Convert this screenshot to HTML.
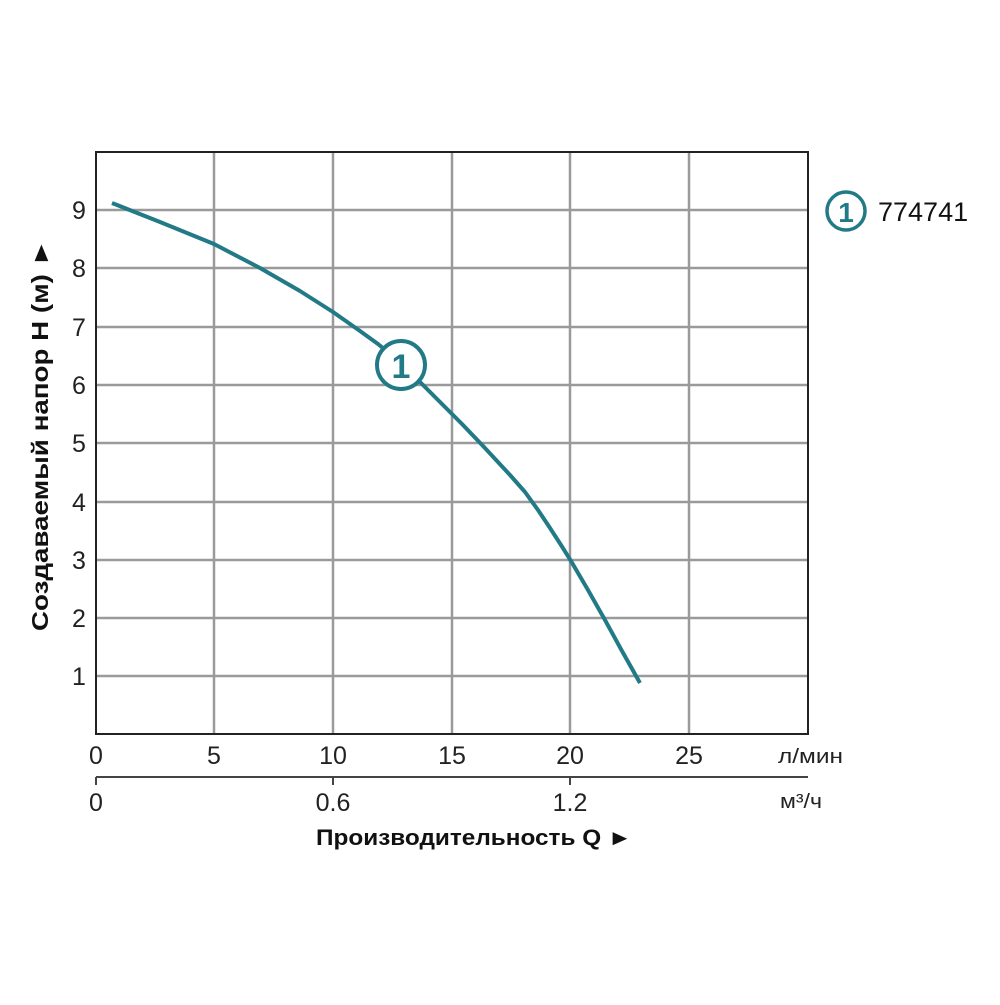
<!DOCTYPE html>
<html><head><meta charset="utf-8"><style>html,body{margin:0;padding:0;background:#fff}</style></head>
<body>
<svg width="1000" height="1000" viewBox="0 0 1000 1000" xmlns="http://www.w3.org/2000/svg" font-family="Liberation Sans, DejaVu Sans, sans-serif">
<g stroke="#9a9a9a" stroke-width="2.5">
<line x1="214" y1="152" x2="214" y2="734"/>
<line x1="333" y1="152" x2="333" y2="734"/>
<line x1="452" y1="152" x2="452" y2="734"/>
<line x1="570" y1="152" x2="570" y2="734"/>
<line x1="689" y1="152" x2="689" y2="734"/>
<line x1="96" y1="210" x2="808" y2="210"/>
<line x1="96" y1="268" x2="808" y2="268"/>
<line x1="96" y1="327" x2="808" y2="327"/>
<line x1="96" y1="385" x2="808" y2="385"/>
<line x1="96" y1="443" x2="808" y2="443"/>
<line x1="96" y1="502" x2="808" y2="502"/>
<line x1="96" y1="560" x2="808" y2="560"/>
<line x1="96" y1="618" x2="808" y2="618"/>
<line x1="96" y1="676" x2="808" y2="676"/>
</g>
<rect x="96" y="152" width="712" height="582" fill="none" stroke="#222" stroke-width="2"/>
<g stroke="#444" stroke-width="2">
<line x1="96" y1="777" x2="808" y2="777"/>
<line x1="96" y1="777" x2="96" y2="785"/>
<line x1="333" y1="777" x2="333" y2="785"/>
<line x1="570" y1="777" x2="570" y2="785"/>
</g>
<polyline points="112,203 160,222 214,244 260,268 300,291 333,312 360,331 378,344 401,363 420,382 440,402 462,424 484,447 510,475 525,492 538,510 550,528 561,545 571,561 588,590 605,620 622,651 640,683" fill="none" stroke="#217a85" stroke-width="4" stroke-linejoin="round"/>
<circle cx="401" cy="365" r="24" fill="#fff" stroke="#217a85" stroke-width="4"/>
<text x="401" y="378" text-anchor="middle" font-size="34" font-weight="bold" fill="#217a85">1</text>
<circle cx="846" cy="211" r="19" fill="#fff" stroke="#217a85" stroke-width="3.5"/>
<text x="846" y="222" text-anchor="middle" font-size="28" font-weight="bold" fill="#217a85">1</text>
<text x="878" y="221" font-size="27" fill="#111">774741</text>
<g font-size="25" fill="#222" text-anchor="middle">
<text x="79" y="219">9</text><text x="79" y="277">8</text><text x="79" y="336">7</text><text x="79" y="394">6</text><text x="79" y="452">5</text><text x="79" y="511">4</text><text x="79" y="569">3</text><text x="79" y="627">2</text><text x="79" y="685">1</text>
<text x="96" y="764">0</text><text x="214" y="764">5</text><text x="333" y="764">10</text><text x="452" y="764">15</text><text x="570" y="764">20</text><text x="689" y="764">25</text>
<text x="96" y="811">0</text><text x="333" y="811">0.6</text><text x="570" y="811">1.2</text>
</g>
<text x="778" y="763" font-size="20" fill="#222" textLength="65" lengthAdjust="spacingAndGlyphs">л/мин</text>
<text x="780" y="808" font-size="20" fill="#222" textLength="42" lengthAdjust="spacingAndGlyphs">м³/ч</text>
<text x="316" y="845" font-size="22" font-weight="bold" fill="#111" textLength="316" lengthAdjust="spacingAndGlyphs">Производительность Q ►</text>
<text transform="translate(48,435) rotate(-90)" text-anchor="middle" font-size="23" font-weight="bold" fill="#111" textLength="392" lengthAdjust="spacingAndGlyphs">Создаваемый напор Н (м) ►</text>
</svg>
</body></html>
